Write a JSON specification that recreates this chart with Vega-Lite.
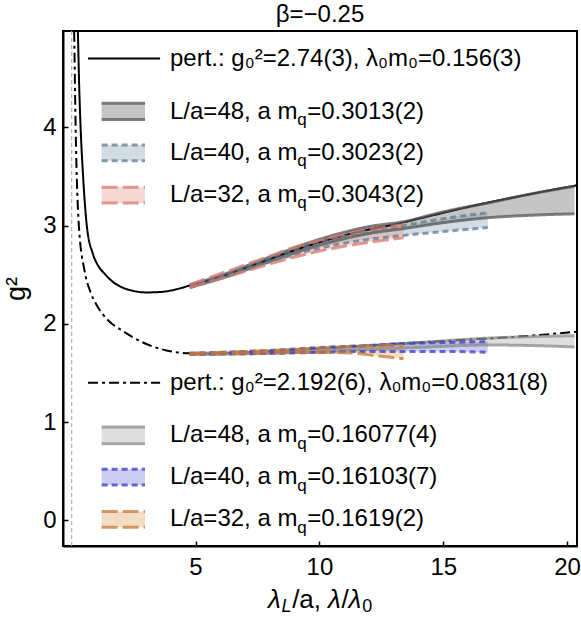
{
  "$schema": "https://vega.github.io/schema/vega-lite/v6.json",
  "width": 514,
  "height": 515,
  "autosize": {"type": "none"},
  "padding": {"left": 63, "top": 31, "right": 4, "bottom": 72},
  "background": "white",
  "title": {"text": "β=−0.25", "fontSize": 24, "font": "Liberation Sans", "fontWeight": "normal", "color": "black", "offset": 3},
  "config": {
    "view": {"stroke": "black", "strokeWidth": 2},
    "axis": {"domainColor": "black", "domainWidth": 2, "tickColor": "black", "tickWidth": 1.5, "tickSize": -5, "labelFont": "Liberation Sans", "labelFontSize": 24, "labelColor": "black", "grid": false, "titleFont": "Liberation Sans", "titleFontWeight": "normal", "titleColor": "black"},
    "text": {"font": "Liberation Sans", "color": "black"}
  },
  "resolve": {"scale": {"strokeDash": "independent"}},
  "datasets": {
    "pert": [
      {"key": "u", "kind": "solid", "x": 0.20, "y": 5.4},
      {"key": "u", "kind": "solid", "x": 0.25, "y": 4.98},
      {"key": "u", "kind": "solid", "x": 0.30, "y": 4.45},
      {"key": "u", "kind": "solid", "x": 0.36, "y": 4.0},
      {"key": "u", "kind": "solid", "x": 0.45, "y": 3.55},
      {"key": "u", "kind": "solid", "x": 0.61, "y": 3.0},
      {"key": "u", "kind": "solid", "x": 0.86, "y": 2.71},
      {"key": "u", "kind": "solid", "x": 1.1, "y": 2.58},
      {"key": "u", "kind": "solid", "x": 1.33, "y": 2.51},
      {"key": "u", "kind": "solid", "x": 1.7, "y": 2.42},
      {"key": "u", "kind": "solid", "x": 2.05, "y": 2.37},
      {"key": "u", "kind": "solid", "x": 2.5, "y": 2.335},
      {"key": "u", "kind": "solid", "x": 3.0, "y": 2.32},
      {"key": "u", "kind": "solid", "x": 3.6, "y": 2.325},
      {"key": "u", "kind": "solid", "x": 4.2, "y": 2.35},
      {"key": "u", "kind": "solid", "x": 4.76, "y": 2.39},
      {"key": "u", "kind": "solid", "x": 6, "y": 2.48},
      {"key": "u", "kind": "solid", "x": 7, "y": 2.57},
      {"key": "u", "kind": "solid", "x": 8, "y": 2.66},
      {"key": "u", "kind": "solid", "x": 9, "y": 2.75},
      {"key": "u", "kind": "solid", "x": 10, "y": 2.83},
      {"key": "u", "kind": "solid", "x": 11, "y": 2.9},
      {"key": "u", "kind": "solid", "x": 12, "y": 2.96},
      {"key": "u", "kind": "solid", "x": 13, "y": 3.01},
      {"key": "u", "kind": "solid", "x": 14, "y": 3.07},
      {"key": "u", "kind": "solid", "x": 15, "y": 3.13},
      {"key": "u", "kind": "solid", "x": 16, "y": 3.19},
      {"key": "u", "kind": "solid", "x": 17, "y": 3.245},
      {"key": "u", "kind": "solid", "x": 18, "y": 3.295},
      {"key": "u", "kind": "solid", "x": 19, "y": 3.345},
      {"key": "u", "kind": "solid", "x": 20.4, "y": 3.41},
      {"key": "l", "kind": "dashdot", "x": 0.07, "y": 5.4},
      {"key": "l", "kind": "dashdot", "x": 0.10, "y": 4.98},
      {"key": "l", "kind": "dashdot", "x": 0.16, "y": 4.0},
      {"key": "l", "kind": "dashdot", "x": 0.29, "y": 3.0},
      {"key": "l", "kind": "dashdot", "x": 0.52, "y": 2.54},
      {"key": "l", "kind": "dashdot", "x": 0.75, "y": 2.33},
      {"key": "l", "kind": "dashdot", "x": 0.99, "y": 2.2},
      {"key": "l", "kind": "dashdot", "x": 1.5, "y": 2.03},
      {"key": "l", "kind": "dashdot", "x": 2.05, "y": 1.93},
      {"key": "l", "kind": "dashdot", "x": 2.8, "y": 1.82},
      {"key": "l", "kind": "dashdot", "x": 3.82, "y": 1.73},
      {"key": "l", "kind": "dashdot", "x": 4.76, "y": 1.70},
      {"key": "l", "kind": "dashdot", "x": 5.5, "y": 1.695},
      {"key": "l", "kind": "dashdot", "x": 6, "y": 1.70},
      {"key": "l", "kind": "dashdot", "x": 8, "y": 1.72},
      {"key": "l", "kind": "dashdot", "x": 10, "y": 1.75},
      {"key": "l", "kind": "dashdot", "x": 12, "y": 1.78},
      {"key": "l", "kind": "dashdot", "x": 14, "y": 1.81},
      {"key": "l", "kind": "dashdot", "x": 16, "y": 1.84},
      {"key": "l", "kind": "dashdot", "x": 18, "y": 1.87},
      {"key": "l", "kind": "dashdot", "x": 20.4, "y": 1.92},
      {"key": "uleg", "kind": "solid", "x": 0.66, "y": 4.70},
      {"key": "uleg", "kind": "solid", "x": 3.57, "y": 4.70},
      {"key": "lleg", "kind": "dashdot", "x": 0.66, "y": 1.40},
      {"key": "lleg", "kind": "dashdot", "x": 3.57, "y": 1.40}
    ],
    "bands": [
      {"key": "48u", "grp": "48u", "x": 4.76, "lo": 2.37, "hi": 2.395},
      {"key": "48u", "grp": "48u", "x": 6, "lo": 2.46, "hi": 2.49},
      {"key": "48u", "grp": "48u", "x": 8, "lo": 2.635, "hi": 2.68},
      {"key": "48u", "grp": "48u", "x": 10, "lo": 2.8, "hi": 2.86},
      {"key": "48u", "grp": "48u", "x": 12, "lo": 2.92, "hi": 2.99},
      {"key": "48u", "grp": "48u", "x": 13.4, "lo": 2.97, "hi": 3.04},
      {"key": "48u", "grp": "48u", "x": 15, "lo": 3.03, "hi": 3.14},
      {"key": "48u", "grp": "48u", "x": 16.8, "lo": 3.08, "hi": 3.23},
      {"key": "48u", "grp": "48u", "x": 18.5, "lo": 3.105, "hi": 3.32},
      {"key": "48u", "grp": "48u", "x": 20.3, "lo": 3.12, "hi": 3.4},
      {"key": "40u", "grp": "40u", "x": 4.76, "lo": 2.37, "hi": 2.39},
      {"key": "40u", "grp": "40u", "x": 6, "lo": 2.465, "hi": 2.49},
      {"key": "40u", "grp": "40u", "x": 8, "lo": 2.635, "hi": 2.67},
      {"key": "40u", "grp": "40u", "x": 10, "lo": 2.77, "hi": 2.83},
      {"key": "40u", "grp": "40u", "x": 11.2, "lo": 2.83, "hi": 2.9},
      {"key": "40u", "grp": "40u", "x": 13.4, "lo": 2.9, "hi": 3.0},
      {"key": "40u", "grp": "40u", "x": 15, "lo": 2.94, "hi": 3.07},
      {"key": "40u", "grp": "40u", "x": 16.8, "lo": 2.98, "hi": 3.13},
      {"key": "32u", "grp": "32u", "x": 4.76, "lo": 2.37, "hi": 2.4},
      {"key": "32u", "grp": "32u", "x": 6, "lo": 2.46, "hi": 2.51},
      {"key": "32u", "grp": "32u", "x": 7, "lo": 2.535, "hi": 2.6},
      {"key": "32u", "grp": "32u", "x": 8, "lo": 2.61, "hi": 2.69},
      {"key": "32u", "grp": "32u", "x": 9, "lo": 2.68, "hi": 2.78},
      {"key": "32u", "grp": "32u", "x": 10, "lo": 2.74, "hi": 2.85},
      {"key": "32u", "grp": "32u", "x": 11, "lo": 2.79, "hi": 2.91},
      {"key": "32u", "grp": "32u", "x": 12, "lo": 2.83, "hi": 2.96},
      {"key": "32u", "grp": "32u", "x": 13.4, "lo": 2.875, "hi": 3.01},
      {"key": "48l", "grp": "48l", "x": 4.76, "lo": 1.69, "hi": 1.70},
      {"key": "48l", "grp": "48l", "x": 8, "lo": 1.70, "hi": 1.72},
      {"key": "48l", "grp": "48l", "x": 10, "lo": 1.72, "hi": 1.75},
      {"key": "48l", "grp": "48l", "x": 12, "lo": 1.74, "hi": 1.78},
      {"key": "48l", "grp": "48l", "x": 14, "lo": 1.76, "hi": 1.81},
      {"key": "48l", "grp": "48l", "x": 16.8, "lo": 1.785, "hi": 1.855},
      {"key": "48l", "grp": "48l", "x": 18.5, "lo": 1.78, "hi": 1.87},
      {"key": "48l", "grp": "48l", "x": 20.3, "lo": 1.765, "hi": 1.88},
      {"key": "40l", "grp": "40l", "x": 4.76, "lo": 1.69, "hi": 1.70},
      {"key": "40l", "grp": "40l", "x": 8, "lo": 1.70, "hi": 1.73},
      {"key": "40l", "grp": "40l", "x": 10, "lo": 1.71, "hi": 1.76},
      {"key": "40l", "grp": "40l", "x": 12, "lo": 1.72, "hi": 1.78},
      {"key": "40l", "grp": "40l", "x": 13.4, "lo": 1.72, "hi": 1.80},
      {"key": "40l", "grp": "40l", "x": 15, "lo": 1.72, "hi": 1.81},
      {"key": "40l", "grp": "40l", "x": 16.8, "lo": 1.71, "hi": 1.82},
      {"key": "32l", "grp": "32l", "x": 4.76, "lo": 1.69, "hi": 1.70},
      {"key": "32l", "grp": "32l", "x": 7, "lo": 1.70, "hi": 1.72},
      {"key": "32l", "grp": "32l", "x": 9, "lo": 1.71, "hi": 1.74},
      {"key": "32l", "grp": "32l", "x": 10.5, "lo": 1.71, "hi": 1.76},
      {"key": "32l", "grp": "32l", "x": 11.5, "lo": 1.70, "hi": 1.77},
      {"key": "32l", "grp": "32l", "x": 12.5, "lo": 1.67, "hi": 1.78},
      {"key": "32l", "grp": "32l", "x": 13.4, "lo": 1.645, "hi": 1.78},
      {"key": "48u_leg", "grp": "48u", "x": 1.21, "lo": 4.08, "hi": 4.245},
      {"key": "48u_leg", "grp": "48u", "x": 2.96, "lo": 4.08, "hi": 4.245},
      {"key": "40u_leg", "grp": "40u", "x": 1.21, "lo": 3.66, "hi": 3.82},
      {"key": "40u_leg", "grp": "40u", "x": 2.96, "lo": 3.66, "hi": 3.82},
      {"key": "32u_leg", "grp": "32u", "x": 1.21, "lo": 3.23, "hi": 3.39},
      {"key": "32u_leg", "grp": "32u", "x": 2.96, "lo": 3.23, "hi": 3.39},
      {"key": "48l_leg", "grp": "48l", "x": 1.21, "lo": 0.78, "hi": 0.95},
      {"key": "48l_leg", "grp": "48l", "x": 2.96, "lo": 0.78, "hi": 0.95},
      {"key": "40l_leg", "grp": "40l", "x": 1.21, "lo": 0.36, "hi": 0.52},
      {"key": "40l_leg", "grp": "40l", "x": 2.96, "lo": 0.36, "hi": 0.52},
      {"key": "32l_leg", "grp": "32l", "x": 1.21, "lo": -0.07, "hi": 0.09},
      {"key": "32l_leg", "grp": "32l", "x": 2.96, "lo": -0.07, "hi": 0.09}
    ],
    "txt": [
      {"role": "m", "x": 3.97, "y": 4.70, "t": "pert.: g₀²=2.74(3), λ₀m₀=0.156(3)"},
      {"role": "m", "x": 3.97, "y": 4.16, "t": "L/a=48, a m"},
      {"role": "s", "x": 9.11, "y": 4.075, "t": "q"},
      {"role": "m", "x": 9.51, "y": 4.16, "t": "=0.3013(2)"},
      {"role": "m", "x": 3.97, "y": 3.74, "t": "L/a=40, a m"},
      {"role": "s", "x": 9.11, "y": 3.655, "t": "q"},
      {"role": "m", "x": 9.51, "y": 3.74, "t": "=0.3023(2)"},
      {"role": "m", "x": 3.97, "y": 3.31, "t": "L/a=32, a m"},
      {"role": "s", "x": 9.11, "y": 3.225, "t": "q"},
      {"role": "m", "x": 9.51, "y": 3.31, "t": "=0.3043(2)"},
      {"role": "m", "x": 3.97, "y": 1.40, "t": "pert.: g₀²=2.192(6), λ₀m₀=0.0831(8)"},
      {"role": "m", "x": 3.97, "y": 0.865, "t": "L/a=48, a m"},
      {"role": "s", "x": 9.11, "y": 0.78, "t": "q"},
      {"role": "m", "x": 9.51, "y": 0.865, "t": "=0.16077(4)"},
      {"role": "m", "x": 3.97, "y": 0.44, "t": "L/a=40, a m"},
      {"role": "s", "x": 9.11, "y": 0.355, "t": "q"},
      {"role": "m", "x": 9.51, "y": 0.44, "t": "=0.16103(7)"},
      {"role": "m", "x": 3.97, "y": 0.01, "t": "L/a=32, a m"},
      {"role": "s", "x": 9.11, "y": -0.075, "t": "q"},
      {"role": "m", "x": 9.51, "y": 0.01, "t": "=0.1619(2)"},
      {"role": "xi", "x": 7.93, "y": -0.81, "t": "λ"},
      {"role": "xs", "x": 8.47, "y": -0.88, "t": "L"},
      {"role": "x", "x": 8.9, "y": -0.81, "t": "/a,"},
      {"role": "xi", "x": 10.35, "y": -0.81, "t": "λ"},
      {"role": "x", "x": 10.89, "y": -0.81, "t": "/"},
      {"role": "xi", "x": 11.18, "y": -0.81, "t": "λ"},
      {"role": "xs0", "x": 11.73, "y": -0.88, "t": "0"}
    ]
  },
  "encoding": {
    "x": {"type": "quantitative", "scale": {"domain": [-0.35, 20.4], "nice": false, "zero": false},
          "axis": {"values": [5, 10, 15, 20], "title": null, "labelPadding": 14}},
    "y": {"type": "quantitative", "scale": {"domain": [-0.26, 4.98], "nice": false, "zero": false},
          "axis": {"values": [0, 1, 2, 3, 4], "title": "g²", "titleFontSize": 27, "labelPadding": 12, "titlePadding": 12}}
  },
  "layer": [
    {
      "data": {"values": [{"x": 0}]},
      "mark": {"type": "rule", "color": "#b0b0b0", "strokeDash": [4, 3], "strokeWidth": 1.2},
      "encoding": {"x": {"field": "x", "type": "quantitative"}}
    },
    {
      "data": {"name": "bands"},
      "mark": {"type": "area", "interpolate": "monotone", "fillOpacity": 0.35, "clip": true},
      "encoding": {
        "x": {"field": "x", "type": "quantitative"},
        "y": {"field": "lo", "type": "quantitative"},
        "y2": {"field": "hi"},
        "detail": {"field": "key"},
        "fill": {"field": "grp", "type": "nominal", "legend": null,
                 "scale": {"domain": ["48u", "40u", "32u", "48l", "40l", "32l"], "range": ["#5a5a5a", "#819bac", "#e29081", "#a0a0a0", "#7070dd", "#da9b56"]}}
      }
    },
    {
      "data": {"name": "pert"},
      "mark": {"type": "line", "interpolate": "monotone", "color": "black", "strokeWidth": 2, "clip": true},
      "encoding": {
        "x": {"field": "x", "type": "quantitative"},
        "y": {"field": "y", "type": "quantitative"},
        "detail": {"field": "key"},
        "strokeDash": {"field": "kind", "type": "nominal", "legend": null,
                       "scale": {"domain": ["solid", "dashdot"], "range": [[1, 0], [10, 4, 3, 4]]}}
      }
    },
    {
      "data": {"name": "bands"},
      "transform": [{"fold": ["lo", "hi"], "as": ["edge", "v"]}],
      "mark": {"type": "line", "interpolate": "monotone", "strokeWidth": 3, "opacity": 0.75, "clip": true},
      "encoding": {
        "x": {"field": "x", "type": "quantitative"},
        "y": {"field": "v", "type": "quantitative"},
        "detail": [{"field": "key"}, {"field": "edge"}],
        "stroke": {"field": "grp", "type": "nominal", "legend": null,
                   "scale": {"domain": ["48u", "40u", "32u", "48l", "40l", "32l"], "range": ["#555555", "#5c7d93", "#d4796f", "#8c8c8c", "#3a3acb", "#c47a35"]}},
        "strokeDash": {"field": "grp", "type": "nominal", "legend": null,
                       "scale": {"domain": ["48u", "40u", "32u", "48l", "40l", "32l"], "range": [[1, 0], [6, 4], [16, 5], [1, 0], [6, 4], [16, 5]]}}
      }
    },
    {
      "data": {"name": "txt"},
      "transform": [{"filter": "datum.role === 'm'"}],
      "mark": {"type": "text", "align": "left", "baseline": "middle", "fontSize": 24, "clip": false},
      "encoding": {"x": {"field": "x", "type": "quantitative"}, "y": {"field": "y", "type": "quantitative"}, "text": {"field": "t"}}
    },
    {
      "data": {"name": "txt"},
      "transform": [{"filter": "datum.role === 's'"}],
      "mark": {"type": "text", "align": "left", "baseline": "middle", "fontSize": 17, "clip": false},
      "encoding": {"x": {"field": "x", "type": "quantitative"}, "y": {"field": "y", "type": "quantitative"}, "text": {"field": "t"}}
    },
    {
      "data": {"name": "txt"},
      "transform": [{"filter": "datum.role === 'x'"}],
      "mark": {"type": "text", "align": "left", "baseline": "middle", "fontSize": 26, "clip": false},
      "encoding": {"x": {"field": "x", "type": "quantitative"}, "y": {"field": "y", "type": "quantitative"}, "text": {"field": "t"}}
    },
    {
      "data": {"name": "txt"},
      "transform": [{"filter": "datum.role === 'xi'"}],
      "mark": {"type": "text", "align": "left", "baseline": "middle", "fontSize": 26, "fontStyle": "italic", "clip": false},
      "encoding": {"x": {"field": "x", "type": "quantitative"}, "y": {"field": "y", "type": "quantitative"}, "text": {"field": "t"}}
    },
    {
      "data": {"name": "txt"},
      "transform": [{"filter": "datum.role === 'xs'"}],
      "mark": {"type": "text", "align": "left", "baseline": "middle", "fontSize": 18, "fontStyle": "italic", "clip": false},
      "encoding": {"x": {"field": "x", "type": "quantitative"}, "y": {"field": "y", "type": "quantitative"}, "text": {"field": "t"}}
    },
    {
      "data": {"name": "txt"},
      "transform": [{"filter": "datum.role === 'xs0'"}],
      "mark": {"type": "text", "align": "left", "baseline": "middle", "fontSize": 18, "clip": false},
      "encoding": {"x": {"field": "x", "type": "quantitative"}, "y": {"field": "y", "type": "quantitative"}, "text": {"field": "t"}}
    }
  ]
}
